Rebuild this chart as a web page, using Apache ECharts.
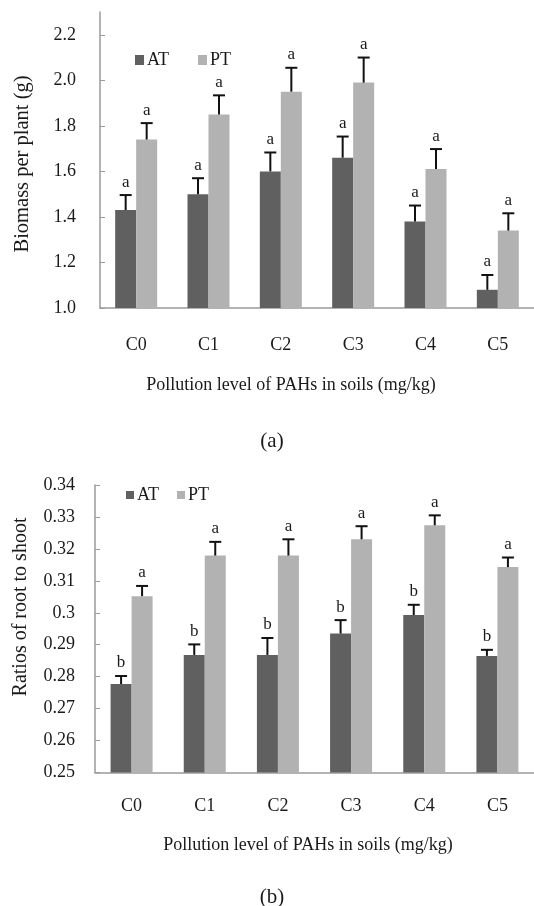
<!DOCTYPE html>
<html>
<head>
<meta charset="utf-8">
<script src="https://cdn.jsdelivr.net/npm/echarts@6/dist/echarts.min.js"></script>
<style>html,body{margin:0;padding:0;background:#fff;}#c{width:534px;height:906px;}</style>
</head>
<body>
<div id="c"></div>
<script>
const categories = ['C0', 'C1', 'C2', 'C3', 'C4', 'C5'];

const biomassAT = [1.43, 1.50, 1.60, 1.66, 1.38, 1.08];
const biomassATErr = [0.066, 0.070, 0.083, 0.093, 0.070, 0.065];
const biomassPT = [1.74, 1.85, 1.95, 1.99, 1.61, 1.34];
const biomassPTErr = [0.072, 0.084, 0.105, 0.110, 0.088, 0.076];
const biomassATLetters = ['a', 'a', 'a', 'a', 'a', 'a'];
const biomassPTLetters = ['a', 'a', 'a', 'a', 'a', 'a'];
const biomassTicks = [1.0, 1.2, 1.4, 1.6, 1.8, 2.0, 2.2];

const ratioAT = [0.2777, 0.2868, 0.2868, 0.2935, 0.2993, 0.2865];
const ratioATErr = [0.0025, 0.0033, 0.0053, 0.0042, 0.0032, 0.0019];
const ratioPT = [0.3052, 0.3179, 0.3179, 0.3230, 0.3274, 0.3143];
const ratioPTErr = [0.0032, 0.0043, 0.0051, 0.0041, 0.0031, 0.0030];
const ratioATLetters = ['b', 'b', 'b', 'b', 'b', 'b'];
const ratioPTLetters = ['a', 'a', 'a', 'a', 'a', 'a'];
const ratioTicks = [0.25, 0.26, 0.27, 0.28, 0.29, 0.30, 0.31, 0.32, 0.33, 0.34];

const FONT = '"Liberation Serif", "Times New Roman", serif';
const DARK = '#606060';
const LIGHT = '#b2b2b2';
const AXIS = '#9a9a9a';
const BAR_W = 21;

function errSeries(name, gridIdx, vals, errs, letters, offset) {
  return {
    type: 'custom',
    name: name + '_err',
    xAxisIndex: gridIdx, yAxisIndex: gridIdx,
    z: 5,
    data: vals.map((v, i) => [i, v, errs[i]]),
    renderItem: function (params, api) {
      const base = api.coord([api.value(0), api.value(1)]);
      const top = api.coord([api.value(0), api.value(1) + api.value(2)]);
      const x = base[0] + offset;
      const st = { stroke: '#111', lineWidth: 2 };
      return {
        type: 'group',
        children: [
          { type: 'line', shape: { x1: x, y1: base[1], x2: x, y2: top[1] }, style: st },
          { type: 'line', shape: { x1: x - 6, y1: top[1], x2: x + 6, y2: top[1] }, style: st },
          { type: 'text', style: { text: letters[params.dataIndex], x: x, y: top[1] - 13,
              textAlign: 'center', textVerticalAlign: 'middle', font: '17px ' + FONT, fill: '#1a1a1a' } }
        ]
      };
    }
  };
}

function xAxisCfg(gridIdx, margin) {
  return {
    type: 'category', gridIndex: gridIdx, data: categories,
    axisLine: { lineStyle: { color: AXIS, width: 1.5 } },
    axisTick: { inside: true, length: 5, lineStyle: { color: AXIS } },
    axisLabel: { margin: margin, color: '#1a1a1a', fontFamily: FONT, fontSize: 18 },
    splitLine: { show: false }
  };
}

function yAxisCfg(gridIdx, min, max, ticks, margin, fmt) {
  return {
    type: 'value', gridIndex: gridIdx, min: min, max: max,
    axisLine: { show: true, lineStyle: { color: AXIS, width: 1.5 } },
    axisTick: { show: true, inside: true, length: 5, lineStyle: { color: AXIS }, customValues: ticks },
    axisLabel: { margin: margin, color: '#1a1a1a', fontFamily: FONT, fontSize: 18, customValues: ticks, formatter: fmt },
    splitLine: { show: false }
  };
}

const option = {
  animation: false,
  backgroundColor: '#ffffff',
  grid: [
    { left: 100, top: 12, width: 436, height: 296 },
    { left: 95, top: 485, width: 440, height: 287.5 }
  ],
  xAxis: [xAxisCfg(0, 28), xAxisCfg(1, 25)],
  yAxis: [
    yAxisCfg(0, 1.0, 2.3, biomassTicks, 24, v => v.toFixed(1)),
    yAxisCfg(1, 0.25, 0.34, ratioTicks, 20, v => String(+v.toFixed(2)))
  ],
  legend: [
    { left: 135, top: 51, padding: 0, itemWidth: 9, itemHeight: 10, itemGap: 29, icon: 'rect',
      data: ['AT', 'PT'], textStyle: { fontFamily: FONT, fontSize: 18, color: '#1a1a1a', padding: [0, 0, 0, -2] } },
    { left: 126, top: 486, padding: 0, itemWidth: 8, itemHeight: 8, itemGap: 18, icon: 'rect',
      data: ['AT', 'PT'], textStyle: { fontFamily: FONT, fontSize: 18, color: '#1a1a1a', padding: [0, 0, 0, -2] } }
  ],
  series: [
    { type: 'bar', name: 'AT', xAxisIndex: 0, yAxisIndex: 0, data: biomassAT, barWidth: BAR_W, barGap: '0%',
      itemStyle: { color: DARK } },
    { type: 'bar', name: 'PT', xAxisIndex: 0, yAxisIndex: 0, data: biomassPT, barWidth: BAR_W, barGap: '0%',
      itemStyle: { color: LIGHT } },
    { type: 'bar', name: 'AT', xAxisIndex: 1, yAxisIndex: 1, data: ratioAT, barWidth: BAR_W, barGap: '0%',
      itemStyle: { color: DARK } },
    { type: 'bar', name: 'PT', xAxisIndex: 1, yAxisIndex: 1, data: ratioPT, barWidth: BAR_W, barGap: '0%',
      itemStyle: { color: LIGHT } },
    errSeries('AT', 0, biomassAT, biomassATErr, biomassATLetters, -BAR_W / 2),
    errSeries('PT', 0, biomassPT, biomassPTErr, biomassPTLetters, BAR_W / 2),
    errSeries('AT', 1, ratioAT, ratioATErr, ratioATLetters, -BAR_W / 2),
    errSeries('PT', 1, ratioPT, ratioPTErr, ratioPTLetters, BAR_W / 2)
  ],
  graphic: [
    { type: 'text', x: 23, y: 164, rotation: Math.PI / 2,
      style: { text: 'Biomass per plant (g)', textAlign: 'center', textVerticalAlign: 'middle', font: '20.5px ' + FONT, fill: '#1a1a1a' } },
    { type: 'text', x: 291, y: 385,
      style: { text: 'Pollution level of PAHs in soils (mg/kg)', textAlign: 'center', textVerticalAlign: 'middle', font: '18px ' + FONT, fill: '#1a1a1a' } },
    { type: 'text', x: 272, y: 441,
      style: { text: '(a)', textAlign: 'center', textVerticalAlign: 'middle', font: '21px ' + FONT, fill: '#1a1a1a' } },
    { type: 'text', x: 21, y: 607, rotation: Math.PI / 2,
      style: { text: 'Ratios of root to shoot', textAlign: 'center', textVerticalAlign: 'middle', font: '20px ' + FONT, fill: '#1a1a1a' } },
    { type: 'text', x: 308, y: 845,
      style: { text: 'Pollution level of PAHs in soils (mg/kg)', textAlign: 'center', textVerticalAlign: 'middle', font: '18px ' + FONT, fill: '#1a1a1a' } },
    { type: 'text', x: 272, y: 897,
      style: { text: '(b)', textAlign: 'center', textVerticalAlign: 'middle', font: '21px ' + FONT, fill: '#1a1a1a' } }
  ]
};

const chart = echarts.init(document.getElementById('c'), null, { renderer: 'canvas' });
chart.setOption(option);
</script>
</body>
</html>
